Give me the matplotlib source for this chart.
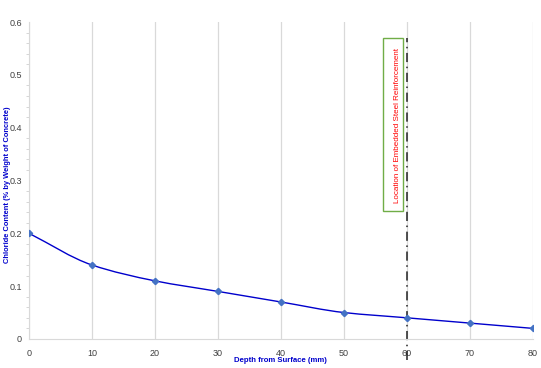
import numpy as np
import matplotlib.pyplot as plt
from matplotlib.path import Path
from matplotlib.patches import PathPatch, Rectangle

depth = [0, 10, 20, 30, 40, 50, 60, 70, 80]
chloride = [0.20, 0.14, 0.11, 0.09, 0.07, 0.05, 0.04, 0.03, 0.02]
rebar_depth = 60
xticks = [0, 10, 20, 30, 40, 50, 60, 70, 80]
yticks = [0, 0.1, 0.2, 0.3, 0.4, 0.5, 0.6]
ytick_labels = ["0", "0.1", "0.2", "0.3", "0.4", "0.5", "0.6"]

plt.rcParams['font.family'] = ['Liberation Sans', 'DejaVu Sans']

fig = plt.figure(figsize=(5.41, 3.68), dpi=100)
ax = fig.add_axes([0.0536, 0.079, 0.931, 0.861])

# smooth line through the points: cubic bezier with monotone tangents
x = np.array(depth, float)
y = np.array(chloride, float)
d = np.diff(y) / np.diff(x)
m = np.empty_like(y)
m[0], m[-1] = d[0], d[-1]
for i in range(1, len(x) - 1):
    m[i] = 2 * d[i - 1] * d[i] / (d[i - 1] + d[i]) if d[i - 1] * d[i] > 0 else 0
verts = [(x[0], y[0])]
codes = [Path.MOVETO]
for i in range(len(x) - 1):
    h = x[i + 1] - x[i]
    verts += [(x[i] + h / 3, y[i] + m[i] * h / 3),
              (x[i + 1] - h / 3, y[i + 1] - m[i + 1] * h / 3),
              (x[i + 1], y[i + 1])]
    codes += [Path.CURVE4] * 3
ax.add_patch(PathPatch(Path(verts, codes), fill=False, edgecolor='#0000cc', lw=1.0, zorder=3))
ax.plot(depth, chloride, ls='none', marker='D', ms=3.2, color='#4472c4', zorder=4)

# rebar location line
ax.plot([rebar_depth, rebar_depth], [-0.04, 0.57], color='#222222', ls=(0, (6, 3, 1, 3)),
        lw=1.1, clip_on=False, zorder=2)
ax.add_patch(Rectangle((56.2, 0.242), 3.2, 0.328, fill=False, edgecolor='#70ad47', lw=1, zorder=2))
ax.text(58.5, 0.404, "Location of Embedded Steel Reinforcement", rotation=90, color='red',
        fontsize=5.8, ha='center', va='center')

ax.set_xlim(0, 80)
ax.set_ylim(0, 0.6)
ax.set_xticks(xticks)
ax.set_xticklabels([str(v) for v in xticks])
ax.set_yticks(yticks)
ax.set_yticklabels(ytick_labels)
ax.set_yticks(np.arange(0, 0.6, 0.02), minor=True)
ax.tick_params(axis='both', which='major', labelsize=6.5, colors='#404040', length=0)
ax.tick_params(axis='y', which='major', pad=5)
ax.tick_params(axis='x', which='major', pad=7)
ax.tick_params(axis='y', which='minor', length=2, color='#d0d0d0')
ax.grid(axis='x', color='#d9d9d9', lw=0.9)
for s in ['top', 'right']:
    ax.spines[s].set_visible(False)
for s in ['left', 'bottom']:
    ax.spines[s].set_color('#d9d9d9')

ax.set_xlabel("Depth from Surface (mm)", fontsize=5.6, color='#0000cc', fontweight='bold')
ax.xaxis.set_label_coords(0.5, -0.058)
ax.set_ylabel("Chloride Content (% by Weight of Concrete)", fontsize=5.4, color='#0000cc',
              fontweight='bold')
ax.yaxis.set_label_coords(-0.036, 0.486)

fig.savefig("out.png", dpi=100)
